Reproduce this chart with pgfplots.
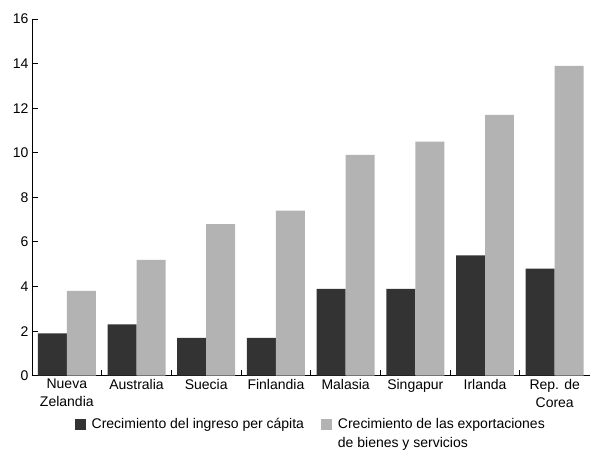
\documentclass[border=0pt]{standalone}
\usepackage{fontspec}
\setmainfont{Liberation Sans}
\usepackage{pgfplots}
\pgfplotsset{compat=1.18}
\definecolor{darkbar}{HTML}{333333}
\definecolor{lightbar}{HTML}{B3B3B3}
\pgfplotsset{sqlegend/.style={legend image code/.code={\fill[##1] (0pt,-1pt) rectangle (11pt,10pt);}}}
\begin{document}
\begin{tikzpicture}
\begin{axis}[
  name=ax,
  scale only axis, width=558pt, height=357pt,
  xmin=-0.5, xmax=7.5, ymin=0, ymax=16,
  axis x line=bottom, axis y line=left,
  axis line style={-, line width=0.9pt},
  ybar=0pt, bar width=29pt,
  ytick={0,2,...,16},
  xtick={0.5,1.5,...,6.5}, xticklabels={},
  extra x ticks={0,...,7},
  extra x tick labels={Nueva\\Zelandia, Australia, Suecia, Finlandia, Malasia, Singapur, Irlanda, Rep. de\\Corea},
  extra x tick style={major tick length=0pt, tick style={draw=none}},
  tick align=inside, major tick length=6pt,
  tick style={black, line width=0.9pt},
  /pgf/number format/assume math mode=true,
  xticklabel style={align=center, font=\fontsize{14}{18}\selectfont},
  yticklabel style={font=\fontsize{14}{18}\selectfont},
  legend columns=2,
  legend style={draw=none, fill=none, at={(0.5,-0.106)}, anchor=north,
    font=\fontsize{14}{18.5}\selectfont, inner sep=0pt,
    cells={anchor=base west, inner sep=0pt},
    /tikz/every odd column/.append style={column sep=4pt},
    /tikz/every even column/.append style={column sep=15pt}},
]
\addplot[fill=darkbar, draw=none, sqlegend] coordinates {
  (0,1.9) (1,2.3) (2,1.7) (3,1.7) (4,3.9) (5,3.9) (6,5.4) (7,4.8)};
\addplot[fill=lightbar, draw=none, sqlegend] coordinates {
  (0,3.8) (1,5.2) (2,6.8) (3,7.4) (4,9.9) (5,10.5) (6,11.7) (7,13.9)};
\legend{Crecimiento del ingreso per cápita, {\begin{tabular}[t]{@{}l@{}}Crecimiento de las exportaciones\\de bienes y servicios\end{tabular}}}
\end{axis}
\path ([xshift=-32pt,yshift=19pt]ax.north west) rectangle ([yshift=-74pt]ax.south east);
\end{tikzpicture}
\end{document}
